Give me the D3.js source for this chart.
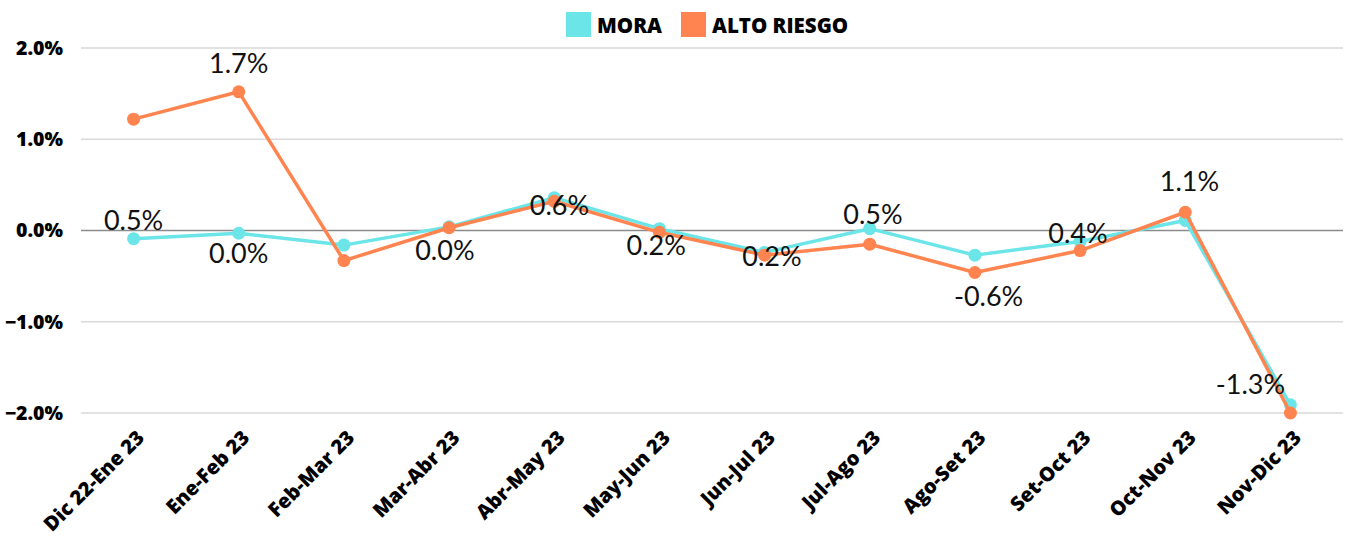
<!DOCTYPE html>
<html>
<head>
<meta charset="utf-8">
<script src="https://cdn.jsdelivr.net/npm/d3@7"></script>
<style>
  body { margin: 0; background: #fff; }
  svg { display: block; }
</style>
</head>
<body>
<script>
// chart data
var periods = ["Dic 22-Ene 23", "Ene-Feb 23", "Feb-Mar 23", "Mar-Abr 23", "Abr-May 23", "May-Jun 23",
               "Jun-Jul 23", "Jul-Ago 23", "Ago-Set 23", "Set-Oct 23", "Oct-Nov 23", "Nov-Dic 23"];
var mora = [-0.09, -0.03, -0.16, 0.04, 0.36, 0.02, -0.24, 0.02, -0.27, -0.12, 0.11, -1.91];
var altoRiesgo = [1.22, 1.52, -0.33, 0.03, 0.32, -0.02, -0.27, -0.15, -0.46, -0.22, 0.20, -2.00];
var yTicks = [-2, -1, 0, 1, 2];
var seriesNames = ["MORA", "ALTO RIESGO"];
var colors = ["#6be5e8", "#ff844f"];

// data labels as printed on the chart, and where they sit (category index, value)
var labelText = ["0.5%", "1.7%", "0.0%", "0.0%", "0.6%", "0.2%", "0.2%", "0.5%", "-0.6%", "0.4%", "1.1%", "-1.3%"];
var labelIndex = [0, 1, 1, 2.96, 4.05, 4.97, 6.07, 7.03, 8.13, 8.98, 10.04, 10.62];
var labelValue = [0.11, 1.83, -0.25, -0.22, 0.28, -0.16, -0.28, 0.18, -0.72, -0.03, 0.54, -1.68];

var width = 1346;
var height = 538;
var plotLeft = 81, plotRight = 1343, plotTop = 48, plotBottom = 413;

var svg = d3.select("body").append("svg")
  .attr("width", width)
  .attr("height", height);

var xScale = d3.scaleBand()
  .domain(periods)
  .range([plotLeft, plotRight]);

var yScale = d3.scaleLinear()
  .domain([-2, 2])
  .range([plotBottom, plotTop]);

// x position from a (possibly fractional) category index
function xAt(i) {
  var base = Math.floor(i);
  return xScale(periods[base]) + xScale.bandwidth() / 2 + (i - base) * xScale.step();
}

// gridlines
svg.append("g")
  .selectAll("line")
  .data(yTicks)
  .enter()
  .append("line")
  .attr("x1", plotLeft)
  .attr("x2", plotRight)
  .attr("y1", function(d) { return yScale(d); })
  .attr("y2", function(d) { return yScale(d); })
  .attr("stroke", function(d) { return d === 0 ? "#8c8c8c" : "#d9d9d9"; })
  .attr("stroke-width", 1.3);

// y axis
var yAxis = d3.axisLeft(yScale)
  .tickValues(yTicks)
  .tickSize(0)
  .tickPadding(18)
  .tickFormat(function(d) { return d3.format(".1f")(d) + "%"; });

svg.append("g")
  .attr("transform", "translate(" + plotLeft + ",0)")
  .call(yAxis)
  .call(function(g) { g.select(".domain").remove(); })
  .selectAll("text")
  .attr("font-family", "'Open Sans', sans-serif")
  .attr("font-weight", "800")
  .attr("font-size", 19.5)
  .attr("fill", "#000");

// x axis
var xAxis = d3.axisBottom(xScale).tickSize(0).tickPadding(0);
svg.append("g")
  .attr("transform", "translate(0," + plotBottom + ")")
  .call(xAxis)
  .call(function(g) { g.select(".domain").remove(); })
  .selectAll("text")
  .attr("font-family", "'Open Sans', sans-serif")
  .attr("font-weight", "800")
  .attr("font-size", 20)
  .attr("fill", "#000")
  .attr("text-anchor", "end")
  .attr("dy", 0)
  .attr("transform", "translate(12,26) rotate(-45)");

// lines and dots
var allSeries = [mora, altoRiesgo];
var line = d3.line()
  .x(function(d, i) { return xAt(i); })
  .y(function(d) { return yScale(d); });

allSeries.forEach(function(values, s) {
  svg.append("path")
    .datum(values)
    .attr("fill", "none")
    .attr("stroke", colors[s])
    .attr("stroke-width", 3.5)
    .attr("stroke-linejoin", "round")
    .attr("d", line);

  svg.append("g")
    .selectAll("circle")
    .data(values)
    .enter()
    .append("circle")
    .attr("cx", function(d, i) { return xAt(i); })
    .attr("cy", function(d) { return yScale(d); })
    .attr("r", 6.5)
    .attr("fill", colors[s]);
});

// data labels
svg.append("g")
  .selectAll("text")
  .data(labelText)
  .enter()
  .append("text")
  .attr("x", function(d, i) { return xAt(labelIndex[i]); })
  .attr("y", function(d, i) { return yScale(labelValue[i]); })
  .attr("dy", "0.36em")
  .attr("text-anchor", "middle")
  .attr("font-family", "Lato, sans-serif")
  .attr("font-weight", 400)
  .attr("font-size", 27)
  .attr("fill", "#111")
  .text(function(d) { return d; });

// legend
var legend = svg.append("g").selectAll("g")
  .data(seriesNames)
  .enter()
  .append("g")
  .attr("transform", function(d, i) { return "translate(" + (i === 0 ? 566 : 681) + ",12)"; });

legend.append("rect")
  .attr("width", 25)
  .attr("height", 25)
  .attr("fill", function(d, i) { return colors[i]; });

legend.append("text")
  .attr("x", 31)
  .attr("y", 21)
  .attr("font-family", "'Open Sans', sans-serif")
  .attr("font-weight", "800")
  .attr("font-size", 20.5)
  .attr("fill", "#000")
  .text(function(d) { return d; });
</script>
</body>
</html>
